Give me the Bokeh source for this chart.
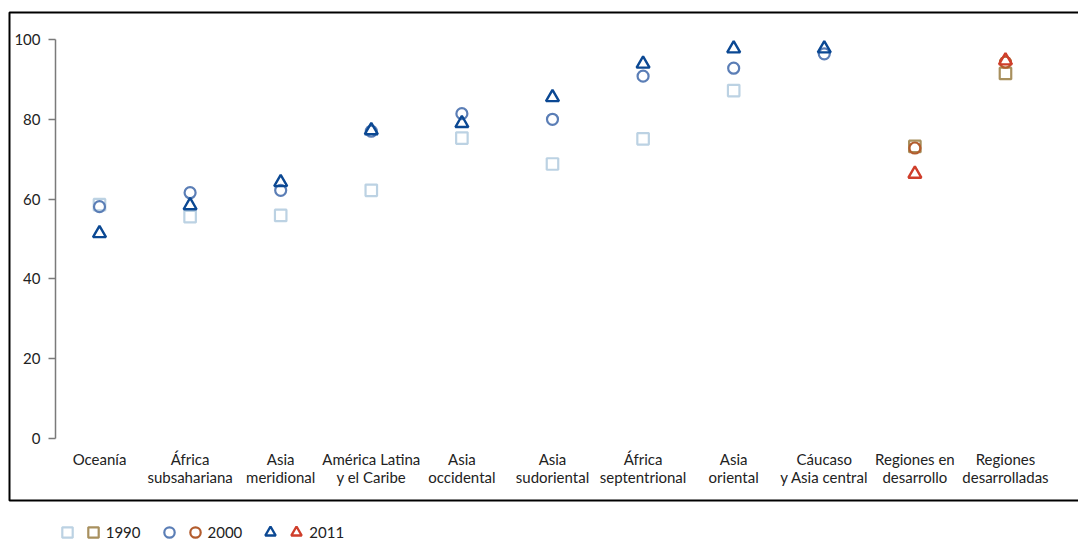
from bokeh.plotting import figure
from bokeh.models import (Range1d, LinearAxis, FixedTicker, Legend, LegendItem,
                          ColumnDataSource, BoxAnnotation)
from bokeh.embed import file_html
from bokeh.resources import INLINE

categories = ["Oceanía", "África\nsubsahariana", "Asia\nmeridional",
              "América Latina\ny el Caribe", "Asia\noccidental", "Asia\nsudoriental",
              "África\nseptentrional", "Asia\noriental", "Cáucaso\ny Asia central",
              "Regiones en\ndesarrollo", "Regiones\ndesarrolladas"]
v1990 = [58.6, 55.6, 55.9, 62.2, 75.3, 68.8, 75.1, 87.2, None, 73.2, 91.5]
v2000 = [58.1, 61.6, 62.2, 77.0, 81.4, 80.0, 90.8, 92.8, 96.4, 72.8, 94.3]
v2011 = [51.4, 58.4, 64.2, 77.2, 79.0, 85.5, 93.9, 97.7, 97.7, 66.3, 94.7]
years = ["1990", "2000", "2011"]
y_ticks = [0, 20, 40, 60, 80, 100]
n_regions = 9  # last two are aggregates

FONT = "Lato"
W, H = 1078, 541

def src(vals, lo, hi):
    xs = [i for i in range(lo, hi) if vals[i] is not None]
    return ColumnDataSource(dict(x=xs, y=[vals[i] for i in xs]))

p = figure(width=W, height=H, output_backend="svg", toolbar_location=None,
           x_range=Range1d(-1.0927, 10.806), y_range=Range1d(-25.81, 109.77),
           x_axis_type=None, y_axis_type=None,
           min_border_left=0, min_border_top=0, min_border_right=0, min_border_bottom=0)
p.outline_line_color=None
p.xgrid.visible=False
p.ygrid.visible=False
p.background_fill_color="white"
p.border_fill_color="white"

# chart box (screen units, y measured from bottom)
p.add_layout(BoxAnnotation(left=9, right=W + 10, top=H - 12, bottom=H - 500,
                           left_units="screen", right_units="screen",
                           top_units="screen", bottom_units="screen",
                           fill_alpha=0, line_color="black", line_alpha=1.0,
                           line_width=2, level="underlay"))

# y axis inside frame
yax = LinearAxis(fixed_location=-0.4857, ticker=FixedTicker(ticks=y_ticks), bounds=(0, 100))
yax.axis_line_color="#7a7a7a"
yax.axis_line_width=1.5
yax.major_tick_line_color="#7a7a7a"
yax.major_tick_line_width=1.5
yax.major_tick_out=7
yax.major_tick_in=0
yax.minor_tick_line_color=None
yax.major_label_standoff=8
yax.major_label_text_font=FONT
yax.major_label_text_font_size="15px"
yax.major_label_text_color="#222222"
p.add_layout(yax, "left")

xax = LinearAxis(fixed_location=0, ticker=FixedTicker(ticks=list(range(len(categories)))))
xax.major_label_overrides={i: c for i, c in enumerate(categories)}
xax.axis_line_color=None
xax.major_tick_line_color=None
xax.minor_tick_line_color=None
xax.major_label_standoff=5
xax.major_label_text_font=FONT
xax.major_label_text_font_size="15px"
xax.major_label_text_line_height=1.0
xax.major_label_text_color="#222222"
p.add_layout(xax, "below")

N = len(categories)
cols_reg = ["#bcd2e3", "#5b7eb6", "#0b4893"]
cols_agg = ["#a8905e", "#b35c2d", "#cf3e2b"]

r_sq_reg = p.scatter("x", "y", source=src(v1990, 0, n_regions), marker="square", size=11.5,
                     fill_color=None, line_color=cols_reg[0], line_width=2.2)
r_sq_agg = p.scatter("x", "y", source=src(v1990, n_regions, N), marker="square", size=11.5,
                     fill_color=None, line_color=cols_agg[0], line_width=2.2)
r_ci_reg = p.scatter("x", "y", source=src(v2000, 0, n_regions), marker="circle", size=11,
                     fill_color=None, line_color=cols_reg[1], line_width=2.2)
r_ci_agg = p.scatter("x", "y", source=src(v2000, n_regions, N), marker="circle", size=11,
                     fill_color=None, line_color=cols_agg[1], line_width=2.2)
r_tr_reg = p.scatter("x", "y", source=src(v2011, 0, n_regions), marker="triangle", size=13,
                     fill_color=None, line_color=cols_reg[2], line_width=2.4)
r_tr_agg = p.scatter("x", "y", source=src(v2011, n_regions, N), marker="triangle", size=13,
                     fill_color=None, line_color=cols_agg[2], line_width=2.4)

pad = "\u2002\u2002"
items = [
    LegendItem(label="", renderers=[r_sq_reg]),
    LegendItem(label=years[0] + pad, renderers=[r_sq_agg]),
    LegendItem(label="", renderers=[r_ci_reg]),
    LegendItem(label=years[1] + pad, renderers=[r_ci_agg]),
    LegendItem(label="", renderers=[r_tr_reg]),
    LegendItem(label=years[2], renderers=[r_tr_agg]),
]
leg = Legend(items=items, orientation="horizontal", location=(53.7, -4),
             glyph_width=26, glyph_height=26, label_standoff=0, spacing=0,
             label_width=0, label_height=18,
             padding=0, margin=0, border_line_color=None, background_fill_alpha=0,
             label_text_font=FONT, label_text_font_size="15px", label_text_color="#222222")
p.add_layout(leg, "center")

open("out.html", "w").write(file_html(p, INLINE))
